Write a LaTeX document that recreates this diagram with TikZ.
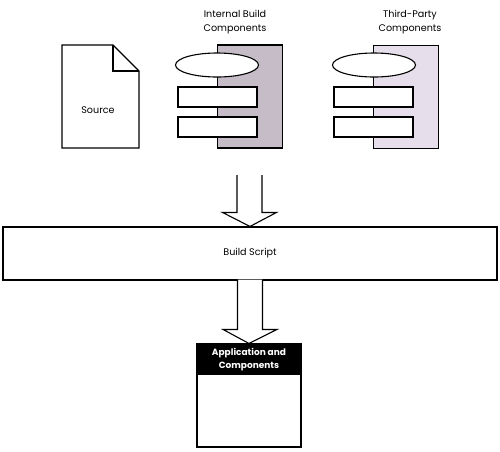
\documentclass[tikz,border=0pt]{standalone}
\usepackage{fontspec}
\setmainfont{Poppins}
\usetikzlibrary{shapes.geometric,calc}

\definecolor{internalfill}{RGB}{198,188,200}
\definecolor{thirdfill}{RGB}{230,222,234}

\newcommand{\blockarrow}[2]{% #1 = top centre, #2 = tip
  \fill[white] let \p1=(#1), \p2=(#2) in
    (\x1-12.5pt,\y1) -- (\x1-12.5pt,\y2+14pt) -- (\x1-27pt,\y2+14pt) -- (\x2,\y2)
    -- (\x1+27pt,\y2+14pt) -- (\x1+12.5pt,\y2+14pt) -- (\x1+12.5pt,\y1) -- cycle;
  \draw[line width=1.1pt, line join=miter] let \p1=(#1), \p2=(#2) in
    (\x1-12.5pt,\y1) -- (\x1-12.5pt,\y2+14pt) -- (\x1-27pt,\y2+14pt) -- (\x2,\y2)
    -- (\x1+27pt,\y2+14pt) -- (\x1+12.5pt,\y2+14pt) -- (\x1+12.5pt,\y1);
}

\begin{document}
\begin{tikzpicture}[x=1pt, y=-1pt,
    label/.style={
        font=\fontsize{9.6}{13.5}\selectfont,
        align=center,
        inner sep=0pt
    },
    backplate/.style={
        rectangle,
        draw,
        line width=1.1pt,
        minimum width=65pt,
        minimum height=103pt,
        inner sep=0pt
    },
    part/.style={
        rectangle,
        draw,
        fill=white,
        line width=1.1pt,
        minimum width=79pt,
        minimum height=20pt,
        inner sep=0pt
    },
    lens/.style={
        ellipse,
        draw,
        fill=white,
        line width=1.1pt,
        minimum width=83pt,
        minimum height=24pt,
        inner sep=0pt
    }
]
\useasboundingbox (0,0) rectangle (500,451);

% Source document
\node[label] (src) at (98,110) {Source};
\draw[line width=1.1pt, line join=miter] (62,45) -- (113,45) -- (139,71) -- (139,148) -- (62,148) -- cycle;
\draw[line width=1.1pt] (113,45) -- (113,71) -- (139,71);

% Internal build components
\node[label] (ibctitle) at (235,22) {Internal Build\\Components};
\node[backplate, fill=internalfill] (ibc) at (250,96.5) {};
\node[lens] (ibclens) at (217,65) {};
\node[part] (ibcpart1) at (217.5,97) {};
\node[part] (ibcpart2) at (217.5,127) {};

% Third-party components
\node[label] (tpctitle) at (410,22) {Third-Party\\Components};
\node[backplate, fill=thirdfill] (tpc) at (406,97) {};
\node[lens] (tpclens) at (374,65) {};
\node[part] (tpcpart1) at (373.5,97) {};
\node[part] (tpcpart2) at (373.5,127) {};

% Build script
\node[rectangle, draw, line width=1.1pt, minimum width=494pt, minimum height=53pt, inner sep=0pt] (build) at (250,253.5) {};
\node[label] (buildtext) at (250,253) {Build Script};

% Application box
\node[rectangle, draw, line width=1.1pt, minimum width=104pt, minimum height=103pt, inner sep=0pt] (app) at (249,395.5) {};
\node[rectangle, fill=black, minimum width=104pt, minimum height=31pt, inner sep=0pt, anchor=north] (apphead) at (app.north) {};
\node[label, text=white, font=\fontsize{9}{13}\selectfont\bfseries] (apptext) at (apphead) {Application and\\Components};

% Arrows
\coordinate (arrowtop) at (249.5,175);
\blockarrow{arrowtop}{build.north}
\blockarrow{$(build.south)+(0,-1)$}{app.north}

\end{tikzpicture}
\end{document}
